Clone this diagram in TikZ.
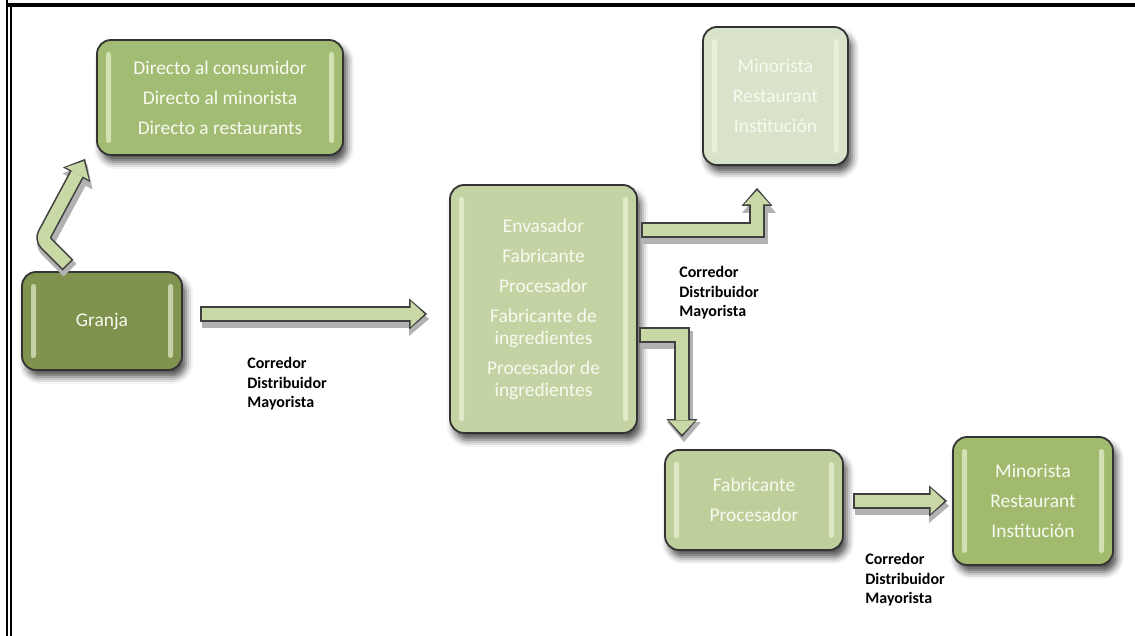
\documentclass[tikz,border=0pt]{standalone}
\usepackage{fontspec}
\setmainfont{Carlito}
\usetikzlibrary{arrows.meta, calc, shadows.blur}
\definecolor{farmcolor}{RGB}{127,147,78}
\definecolor{directcolor}{RGB}{163,188,115}
\definecolor{proccolor}{RGB}{196,211,163}
\definecolor{retailpale}{RGB}{217,227,201}
\definecolor{manufcolor}{RGB}{190,207,155}
\definecolor{retailcolor}{RGB}{161,186,110}
\definecolor{pipecolor}{RGB}{200,217,166}
\definecolor{stagetext}{RGB}{248,250,240}
\definecolor{glosscolor}{RGB}{245,250,225}
\newcommand{\stagefont}{\fontsize{9.7}{11}\selectfont}
\newcommand{\tradefont}{\bfseries\fontsize{8}{9.8}\selectfont}

\begin{document}
\begin{tikzpicture}[
    x=0.5pt, y=0.5pt,
    stage/.style={draw=black!80, line width=0.9pt, fill=#1, rounded corners=7pt, text=stagetext, font=\stagefont, align=center, inner sep=0pt,
        blur shadow={shadow xshift=2pt, shadow yshift=-3.5pt, shadow blur radius=3.5pt, shadow opacity=70},
        path picture={
            \fill[glosscolor, opacity=0.6, rounded corners=1.2pt] ([xshift=4.5pt,yshift=-6pt]path picture bounding box.north west) rectangle ([xshift=7pt,yshift=6pt]path picture bounding box.south west);
            \fill[glosscolor, opacity=0.6, rounded corners=1.2pt] ([xshift=-4.5pt,yshift=-6pt]path picture bounding box.north east) rectangle ([xshift=-7pt,yshift=6pt]path picture bounding box.south east);
        }},
    pipe/.style={draw=pipecolor, line width=6pt, line join=miter, shorten <=0.8pt, shorten >=1.3pt,
        -{Triangle[length=7pt, width=13pt, line width=0pt]},
        preaction={draw=black!30, line width=9pt, shorten <=0pt, shorten >=0pt, transform canvas={shift={(1pt,-2.5pt)}},
            -{Triangle[length=10pt, width=17pt, line width=0pt]}},
        preaction={draw=black!75, line width=7.6pt, shorten <=0pt, shorten >=0pt,
            -{Triangle[length=9pt, width=15.5pt, line width=0pt]}}},
    trade/.style={font=\tradefont, align=left, anchor=north west, inner sep=0pt}
]
    \useasboundingbox (0,0) rectangle (1135,636);

    % frame
    \draw[line width=2pt] (6,631) -- (1135,631);
    \draw[line width=1pt] (7,636) -- (7,0) (11,632) -- (11,0);

    % stages
    \node[stage=directcolor, minimum width=123pt, minimum height=57.5pt] (direct) at (220,538.5) {Directo al consumidor\\[4pt]Directo al minorista\\[4pt]Directo a restaurants};
    \node[stage=farmcolor, minimum width=80pt, minimum height=49pt] (granja) at (102,315) {Granja};
    \node[stage=proccolor, minimum width=93.5pt, minimum height=124pt] (proc) at (543.5,327) {Envasador\\[4pt]Fabricante\\[4pt]Procesador\\[4pt]Fabricante de\\ingredientes\\[4pt]Procesador de\\ingredientes};
    \node[stage=retailpale, minimum width=72.5pt, minimum height=69pt] (retail1) at (775.5,540) {Minorista\\[4pt]Restaurant\\[4pt]Institución};
    \node[stage=manufcolor, minimum width=89pt, minimum height=50pt] (manuf) at (754,136) {Fabricante\\[4pt]Procesador};
    \node[stage=retailcolor, minimum width=80pt, minimum height=64pt] (retail2) at (1033,135) {Minorista\\[4pt]Restaurant\\[4pt]Institución};

    % block arrows
    \draw[pipe, rounded corners=3pt] ($(granja.north)+(-34,6)$) -- ++(-26,26) -- ($(direct.south west)+(-11,-3)$);
    \draw[pipe] ($(granja.east)+(17,7)$) -- ($(proc.west)+(-22,-5)$);
    \draw[pipe] ($(proc.east)+(3,79)$) -| ($(retail1.south)+(-18.5,-22)$);
    \draw[pipe] ($(proc.east)+(1,-26)$) -| ($(manuf.north)+(-72,12)$);
    \draw[pipe] ($(manuf.east)+(9,-1)$) -- ($(retail2.west)+(-5,0)$);

    % intermediaries
    \node[trade] (trade1) at (247,279) {Corredor\\Distribuidor\\Mayorista};
    \node[trade] (trade2) at (679,370) {Corredor\\Distribuidor\\Mayorista};
    \node[trade] (trade3) at (865,83) {Corredor\\Distribuidor\\Mayorista};
\end{tikzpicture}
\end{document}
